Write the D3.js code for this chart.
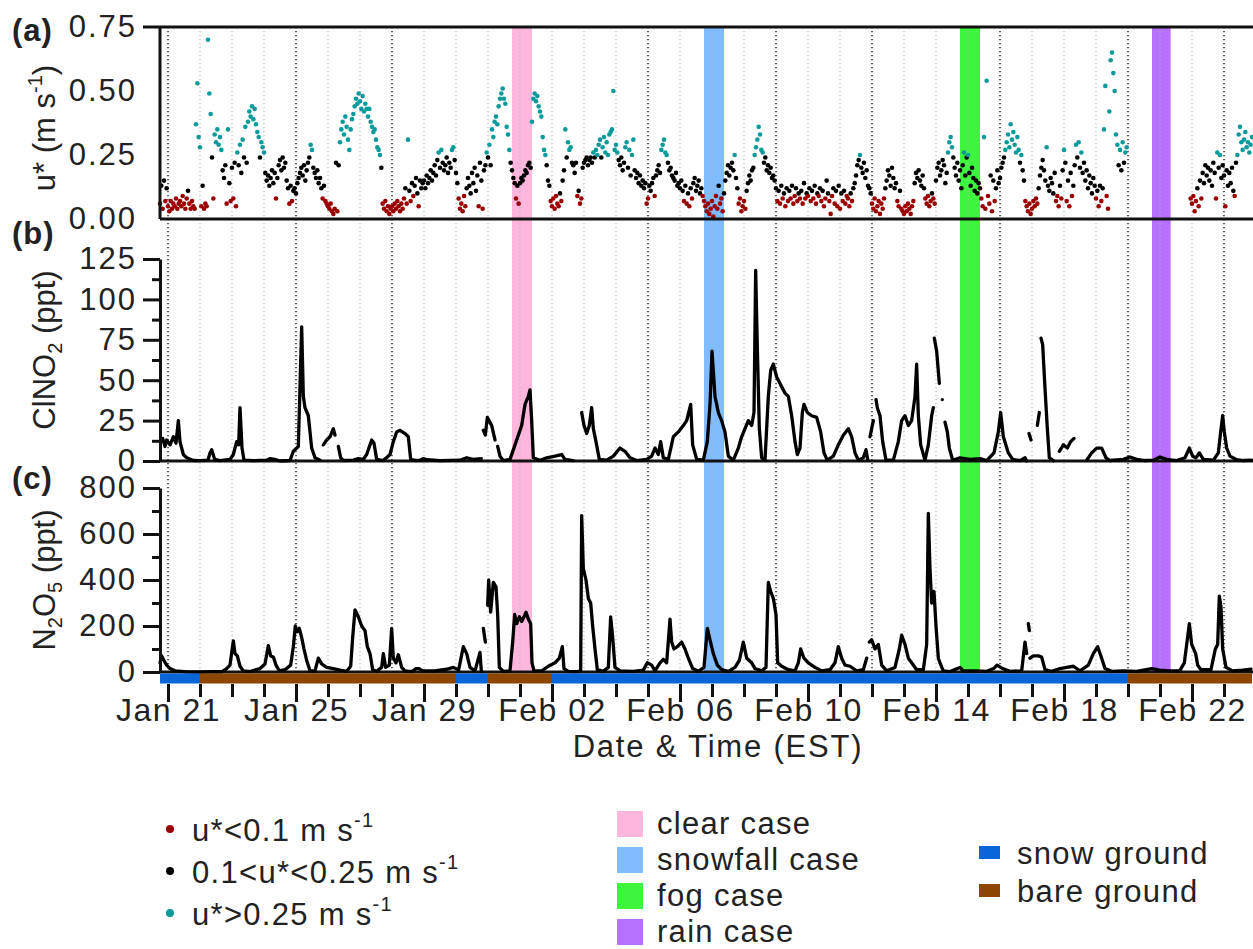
<!DOCTYPE html>
<html>
<head>
<meta charset="utf-8">
<script src="https://cdn.jsdelivr.net/npm/d3@7"></script>
<style>
  body { margin: 0; background: #fff; }
  text { font-family: "Liberation Sans", Arial, sans-serif; fill: #222; }
</style>
</head>
<body>
<div id="chart"></div>
<script>
// ---- data ----

// u* (m s-1), hourly values, each block starts at the given time
let ustarStart = ["2018-01-20 18:00", "2018-01-21 00:00", "2018-01-22 00:00", "2018-01-23 00:00", "2018-01-24 00:00",
    "2018-01-25 00:00", "2018-01-26 00:00", "2018-01-27 00:00", "2018-01-28 00:00", "2018-01-29 00:00",
    "2018-01-30 00:00", "2018-01-31 00:00", "2018-02-01 00:00", "2018-02-02 00:00", "2018-02-03 00:00",
    "2018-02-04 00:00", "2018-02-05 00:00", "2018-02-06 00:00", "2018-02-07 00:00", "2018-02-08 00:00",
    "2018-02-09 00:00", "2018-02-10 00:00", "2018-02-11 00:00", "2018-02-12 00:00", "2018-02-13 00:00",
    "2018-02-14 00:00", "2018-02-15 00:00", "2018-02-16 00:00", "2018-02-17 00:00", "2018-02-18 00:00",
    "2018-02-19 00:00", "2018-02-21 23:00", "2018-02-22 00:00", "2018-02-23 00:00"];
let ustarHourly = [
    [.06, .13, .04, .15, .07, .12],
    [.05, .03, .07, .04, .06, .05, .08, .04, .06, .07, .05, .09, .06, .04, .08, .11, .06, .04, .07, .05, .04, .37, .53, .32],
    [.28, .05, .13, .04, .06, .05, .70, .49, .41, .24, .08, .33, .30, .35, .29, .32, .27, .19, .16, .21, .06, .35, .14, .07],
    [.20, .08, .22, .05, .26, .21, .29, .18, .31, .24, .36, .22, .38, .42, .40, .44, .39, .43, .37, .34, .32, .24, .30, .28],
    [.26, .18, .15, .17, .13, .16, .19, .14, .18, .08, .16, .21, .23, .19, .24, .20, .22, .15, .12, .06, .13, .07, .11, .12],
    [.10, .14, .16, .18, .20, .17, .21, .15, .19, .22, .24, .29, .27, .20, .18, .16, .19, .14, .16, .12, .08, .13, .07, .06],
    [.05, .04, .06, .03, .02, .04, .22, .03, .21, .30, .35, .38, .33, .40, .36, .31, .27, .35, .39, .41, .44, .47, .45, .49],
    [.46, .43, .48, .42, .45, .43, .40, .43, .38, .36, .34, .35, .31, .28, .27, .25, .20, .06, .04, .07, .03, .05, .02, .04],
    [.05, .03, .06, .04, .07, .05, .03, .06, .04, .08, .12, .06, .31, .11, .07, .14, .09, .13, .16, .10, .05, .15, .12, .14],
    [.15, .12, .17, .14, .16, .19, .15, .18, .21, .17, .23, .26, .20, .27, .22, .19, .21, .24, .18, .22, .20, .27, .28, .23],
    [.18, .14, .08, .04, .06, .03, .09, .05, .12, .16, .13, .10, .18, .14, .20, .11, .17, .05, .22, .15, .04, .19, .21, .26],
    [.24, .29, .21, .35, .32, .38, .40, .37, .44, .47, .49, .51, .47, .45, .36, .33, .27, .22, .19, .16, .14, .08, .13, .06],
    [.14, .16, .15, .17, .19, .18, .21, .22, .20, .38, .47, .49, .46, .48, .44, .42, .40, .32, .27, .25, .21, .15, .13, .07],
    [.05, .08, .04, .09, .06, .05, .10, .07, .15, .19, .35, .24, .30, .27, .28, .22, .21, .18, .22, .09, .11, .06, .08, .20],
    [.22, .23, .24, .21, .23, .24, .22, .26, .24, .27, .25, .29, .31, .24, .28, .32, .26, .30, .25, .33, .34, .35, .50, .27],
    [.29, .26, .23, .21, .24, .19, .22, .28, .30, .20, .27, .17, .25, .31, .19, .16, .18, .14, .17, .13, .15, .12, .14, .06],
    [.08, .13, .11, .14, .16, .09, .17, .19, .21, .18, .27, .29, .31, .26, .25, .22, .19, .20, .17, .16, .15, .18, .13, .14],
    [.12, .15, .11, .07, .13, .06, .10, .05, .12, .08, .14, .16, .11, .13, .15, .10, .12, .09, .07, .05, .03, .06, .02, .04],
    [.07, .01, .05, .09, .04, .13, .06, .08, .03, .10, .15, .18, .21, .17, .20, .22, .19, .25, .16, .12, .06, .08, .03, .05],
    [.07, .04, .11, .14, .17, .15, .19, .20, .25, .28, .31, .36, .33, .27, .26, .22, .24, .19, .21, .18, .20, .16, .17, .15],
    [.12, .07, .11, .06, .13, .08, .10, .05, .12, .07, .11, .08, .13, .06, .09, .12, .07, .10, .08, .11, .06, .14, .08, .10],
    [.09, .12, .07, .11, .08, .13, .06, .10, .09, .12, .07, .11, .05, .08, .15, .10, .07, .02, .09, .12, .06, .11, .05, .13],
    [.04, .10, .07, .11, .06, .09, .08, .05, .10, .07, .12, .14, .17, .21, .23, .25, .20, .18, .22, .16, .19, .13, .12, .10],
    [.06, .04, .08, .03, .05, .07, .02, .06, .04, .08, .12, .15, .19, .17, .13, .20, .16, .12, .14, .07, .05, .11, .04, .03],
    [.02, .05, .03, .06, .04, .02, .05, .07, .14, .18, .16, .19, .15, .13, .17, .12, .08, .06, .09, .05, .07, .10, .08, .06],
    [.15, .20, .22, .17, .19, .23, .21, .14, .18, .26, .30, .32, .28, .24, .20, .17, .22, .15, .19, .12, .21, .26, .17, .24],
    [.25, .18, .13, .20, .16, .11, .15, .10, .14, .12, .08, .05, .32, .04, .54, .09, .06, .17, .03, .15, .07, .12, .19, .14],
    [.16, .20, .22, .24, .27, .30, .33, .28, .37, .31, .34, .29, .26, .32, .27, .22, .25, .19, .15, .07, .05, .03, .06, .02],
    [.04, .07, .05, .08, .06, .12, .17, .20, .23, .19, .15, .28, .13, .11, .16, .14, .10, .18, .07, .09, .05, .13, .08, .19],
    [.27, .22, .07, .15, .05, .18, .09, .13, .21, .29, .24, .30, .20, .26, .18, .22, .15, .19, .12, .17, .14, .10, .16, .13],
    [.08, .11, .05, .13, .07, .12, .35, .52, .09, .04, .42, .62, .65, .57, .50, .33, .29, .21, .27, .19, .30, .22, .26, .28],
    [.08],
    [.06, .09, .03, .07, .12, .05, .15, .08, .18, .14, .21, .17, .20, .15, .19, .13, .22, .18, .08, .26, .20, .25, .16, .21],
    [.17, .05, .19, .13, .18, .14, .20, .11, .09, .22, .25, .33, .36, .30, .27, .31, .34, .28, .30, .26, .29, .32]
];

// ClNO2 (ppt): [hours after Jan 21 00:00, value]; null = gap
let clno2 = [[-6, 12], [-4, 14], [-2.25, 9], [-1, 13], [1.5, 10], [4, 15], [6, 11], [7.75, 25], [9, 12], [11.5, 4], [14, 2], [19, .3],
    [24, .2], [30, .5], [31.5, 5], [32.75, 7], [35, 1], [39, .3], [46.5, 1], [49, 4], [51.5, 12], [53, 10], [54, 33], [55.5, 8], [57, .5],
    [64, .2], [74, .5], [76.5, 1.5], [80, 1], [84, 0], [91.5, .3], [94, 6], [97.75, 9], [100.25, 83], [101.5, 40], [102.75, 33], [105.25, 28],
    [107.75, 8], [110.25, 2], [114, .5], [115.5, null], [116.5, 10], [119, 13], [121.5, 15], [124, 20], [125.25, 16], [126, null], [127.75, 9],
    [129.5, 2], [131.5, .3], [139, .5], [142.75, 1.5], [146.5, 1], [149, 4], [151.5, 10], [152.75, 13], [154.5, 11], [156.5, 1], [161.5, .3],
    [166.5, 4], [169, 12], [171.5, 18], [174, 19], [177.75, 17], [180.25, 15], [182, 1], [186.5, .3], [189, .5], [191.5, 1.5], [194, .8],
    [204, .2], [219, .5], [224, 2], [229, 1], [235, 1.5], [236, null], [236.5, 19], [238, 16], [239.5, 27], [242.75, 22], [245.25, 13],
    [246, null], [247.25, 9], [249, 3], [251.5, .3], [256.5, 1], [260.25, 10], [262.75, 16], [265.25, 22], [267.75, 35], [270.25, 40],
    [271.5, 44], [272.75, 25], [274, 2], [279, .5], [284, 2], [290.25, 3], [295.25, 4], [297.75, 1], [304, .3], [309, null], [310.25, 30],
    [312, 22], [314, 17], [316, 22], [317.75, 33], [319, 20], [321, 12], [323.5, 1], [329, .5], [334, 3], [339, 8], [342.75, 6], [346.5, 2],
    [351.5, .3], [359, 1], [362.75, 3], [365.25, 8], [367.75, 4], [369.5, 12], [371.5, 2], [375.25, 1], [379, 15], [382.75, 18], [386.5, 22],
    [389, 25], [392, 35], [393.5, 10], [396.5, 1], [401.5, .5], [404.5, 12], [406.5, 35], [408, 68], [410.25, 40], [412.75, 30], [415.25, 25],
    [417.75, 18], [420.25, 3], [424, .5], [427.75, 8], [430.25, 15], [432.75, 20], [435.25, 25], [437.75, 22], [439.5, 30], [440.75, 118],
    [442, 70], [443.5, 20], [445.25, 2], [447.75, .5], [450.25, 40], [452, 56], [454, 60], [456.5, 52], [459, 48], [462.75, 42], [465.25, 40],
    [467.75, 28], [470.25, 12], [472, 4], [474, 8], [475.75, 30], [477, 35], [479.5, 30], [482.75, 28], [486.5, 27], [489.5, 18], [492, 5],
    [494.5, .5], [499, 3], [502.75, 10], [506.5, 16], [510.25, 20], [512.75, 15], [515.25, 5], [517.75, .5], [521.5, 2], [523.5, 7],
    [524.75, 1], [525.5, null], [526.5, 15], [529, 25], [530, null], [531, 38], [532, 33], [534, 28], [536, 12], [538.5, .5], [544, .5],
    [547.75, 12], [550.25, 25], [552.75, 28], [555.25, 22], [557.75, 25], [560.25, 40], [561.5, 60], [562.75, 28], [564.5, 10], [567.75, .5],
    [570.25, 10], [572.75, 28], [574, 33], [574.4, null], [574.75, 76], [576.5, 68], [578.5, 48], [579.5, null], [580.75, 38], [581.5, null],
    [582.75, 24], [584.5, 18], [586, 8], [588.5, .5], [594, 2], [601.5, 1], [609, 1.5], [614, .2], [619.5, 5], [622.75, 18], [624.5, 30],
    [626.5, 15], [630.25, 5], [633.5, 1], [639, .2], [642.75, 2], [644, 0], [645, null], [645.75, 17], [647.25, 13], [648, null], [652, 22],
    [653.5, 30], [654, null], [654.75, 76], [656, 72], [657.75, 45], [659.5, 20], [661, 2], [664, .2], [666, null], [668.5, 6], [671.5, 10],
    [674.5, 8], [677, 12], [679.5, 14], [681, null], [689, .5], [692.75, 5], [696.5, 8], [700.25, 8], [703.5, 2], [706.5, .3], [716.5, 1],
    [721.5, 2.5], [726.5, 1], [732.75, .3], [739, .5], [744, 2.5], [749, 1], [756.5, .3], [762.75, 2], [766, 8], [768.5, 3], [771, 2],
    [773.5, 5], [776.5, 1], [784, .5], [787.75, 5], [789.5, 18], [791, 28], [792.25, 18], [794, 8], [796.5, 3], [801.5, .8], [806.5, .3],
    [812.75, .5]];

// N2O5 (ppt): [hours after Jan 21 00:00, value]; null = gap
let n2o5 = [[-6, 40], [-4.75, 70], [-3, 50], [-1, 30], [1.5, 15], [5.25, 5], [10.25, 3], [14, .5], [24, 0], [34, 2], [40.25, 1], [44, 15],
    [46.5, 30], [49, 135], [50.25, 80], [52, 70], [54, 25], [56.5, 5], [61.5, 2], [69, 15], [72.75, 35], [75.25, 115], [77, 70], [79, 65],
    [81, 30], [83.5, 5], [87.75, 10], [92, 30], [94, 110], [95.5, 200], [97, 175], [98.5, 190], [100.25, 150], [102, 100], [104, 50],
    [106.5, 5], [110.25, 5], [112.75, 60], [115.25, 35], [119, 20], [124, 15], [129, 8], [134, 3], [137, 25], [138.5, 150], [140.25, 270],
    [142.75, 240], [145.25, 200], [147.75, 180], [149.5, 110], [151.5, 80], [153.5, 10], [156.5, 3], [160.25, 20], [161.5, 80], [163.25, 20],
    [166, 30], [167.75, 190], [169, 60], [171, 40], [172.75, 75], [175.25, 20], [177.75, 5], [182.75, 2], [186, 15], [188, 15], [191, 5],
    [200, 5], [209, 12], [214, 20], [218, 10], [221.5, 110], [224, 80], [226.5, 20], [230.25, 5], [234, 85], [235, 3], [235.8, null],
    [236.5, 190], [238, 130], [239, null], [239.75, 290], [240.5, 400], [242, 260], [244, 390], [246, 370], [247.25, 250], [248.5, 20],
    [251.5, 3], [256.5, 5], [258.5, 130], [260, 250], [261.5, 210], [263.5, 240], [265.25, 220], [267, 240], [268.5, 260], [270.25, 230],
    [272, 210], [273, 40], [274.5, 5], [280.25, 5], [285.25, 25], [290.25, 40], [293.5, 60], [295.75, 110], [297, 15], [300.25, 3],
    [306.5, 2], [309.5, 5], [310.25, 680], [311.5, 450], [313.5, 400], [315.25, 320], [317, 300], [318.5, 200], [320.25, 100], [322, 10],
    [326.5, 3], [330.25, 20], [332, 240], [333.5, 150], [335.25, 20], [339, 5], [349, 3], [356.5, 8], [359.5, 40], [362.75, 30], [365.25, 5],
    [369, 40], [371.5, 55], [374, 40], [376.5, 230], [377.75, 130], [379.5, 100], [382, 110], [385.25, 130], [387.75, 100], [390.25, 60],
    [393.5, 15], [397.75, 3], [402, 20], [404.5, 190], [406.5, 140], [409, 80], [412, 30], [415.25, 10], [420.25, 3], [425.25, 20],
    [428.5, 50], [431.5, 130], [434, 60], [437.75, 40], [440.25, 15], [445.25, 5], [448.5, 20], [450.25, 390], [452, 350], [454, 320],
    [456, 250], [457.25, 40], [460.25, 25], [465.25, 10], [470.25, 5], [472.75, 40], [474.5, 100], [477, 60], [480.25, 40], [485.25, 20],
    [490.25, 5], [496.5, 10], [500.25, 40], [502.75, 110], [505.25, 60], [507.75, 30], [511.5, 25], [516.5, 5], [521.5, 10], [524, 60],
    [525, null], [526, 130], [527.75, 140], [530.25, 100], [532.75, 120], [535.25, 30], [539, 5], [545.25, 20], [548.5, 100], [550.25, 160],
    [552.75, 120], [555.25, 60], [557.75, 40], [561.5, 10], [566.5, 10], [569, 120], [570.25, 690], [571.5, 450], [572.75, 300], [574.5, 350],
    [576, 200], [577.75, 60], [579, 40], [581.5, 5], [586.5, 2], [594, 20], [596.5, 5], [606.5, 5], [614, 3], [619.25, 15], [621.75, 30],
    [626, 15], [631.5, 3], [640.25, 5], [642.75, 130], [644, 80], [644.6, null], [645.25, 210], [646, 180], [646.3, null], [646.5, 60],
    [649, 70], [652.75, 70], [655.25, 65], [657.75, 10], [662.75, 3], [669, 15], [674, 20], [679, 25], [684, 5], [690.25, 30], [694, 80],
    [697.25, 110], [700.25, 60], [702.75, 15], [707.75, 3], [716.5, 5], [726.5, 3], [737.75, 15], [744, 8], [751.5, 5], [758.75, 5],
    [762.25, 40], [766, 210], [767.75, 120], [770.75, 80], [772.25, 30], [774.75, 10], [782.25, 10], [785.5, 100], [787.25, 120],
    [788.5, 330], [789.75, 280], [791, 100], [793.5, 20], [798.5, 5], [806, 8], [812.25, 12]];

// shaded case periods
let caseNames = ["clear case", "snowfall case", "fog case", "rain case"];
let caseStart = ["2018-01-31 18:00", "2018-02-06 18:00", "2018-02-14 18:00", "2018-02-20 18:00"];
let caseEnd = ["2018-02-01 09:00", "2018-02-07 09:00", "2018-02-15 09:00", "2018-02-21 08:00"];
let caseColors = ["#ffb6dc", "#80bcff", "#3cf53c", "#b870ff"];

// ground state bar
let groundNames = ["snow ground", "bare ground"];
let groundColors = ["#0a66d8", "#8c4600"];
let groundStart = ["2018-01-20 18:00", "2018-01-22 00:00", "2018-01-30 00:00", "2018-01-31 00:00", "2018-02-02 00:00", "2018-02-20 00:00"];
let groundState = ["snow ground", "bare ground", "snow ground", "bare ground", "snow ground", "bare ground"];

// u* classes
let ustarBreaks = [0.1, 0.25];
let ustarClassColors = ["#9a0000", "#000000", "#0b9a9a"];

// axis ticks
let majorTickLabels = ["2018-01-21", "2018-01-25", "2018-01-29", "2018-02-02", "2018-02-06", "2018-02-10", "2018-02-14", "2018-02-18", "2018-02-22"];
let darkGridDays = ["2018-01-21", "2018-01-25", "2018-01-28", "2018-02-05", "2018-02-09", "2018-02-12", "2018-02-16", "2018-02-20", "2018-02-23"];
let ustarTicks = [0, 0.25, 0.5, 0.75];
let clno2Ticks = [0, 25, 50, 75, 100, 125];
let clno2Minor = [12.5, 37.5, 62.5, 87.5, 112.5];
let n2o5Ticks = [0, 200, 400, 600, 800];
let n2o5Minor = [100, 300, 500, 700];

// ---- layout ----
let svgWidth = 1253;
let svgHeight = 949;
let left = 160, right = 1252;
let aTop = 27, aBottom = 219;
let bTop = 259, bBottom = 461;
let cTop = 488, cBottom = 672;

let parseT = d3.timeParse("%Y-%m-%d %H:%M");
let parseD = d3.timeParse("%Y-%m-%d");
let t0 = parseD("2018-01-21");
let atHour = h => new Date(t0.getTime() + h * 3600e3);

let svg = d3.select("#chart").append("svg")
    .attr("width", svgWidth)
    .attr("height", svgHeight);

let xScale = d3.scaleTime()
    .domain([parseT("2018-01-20 18:00"), parseT("2018-02-23 21:00")])
    .range([left, right]);
let yA = d3.scaleLinear().domain([0, 0.75]).range([aBottom, aTop]);
let yB = d3.scaleLinear().domain([0, 125]).range([bBottom, bTop]);
let yC = d3.scaleLinear().domain([0, 800]).range([cBottom, cTop]);
let ustarColor = d3.scaleThreshold().domain(ustarBreaks).range(ustarClassColors);

// case bands
svg.append("g").selectAll("rect")
    .data(caseNames)
    .enter().append("rect")
    .attr("x", (d, i) => xScale(parseT(caseStart[i])))
    .attr("width", (d, i) => xScale(parseT(caseEnd[i])) - xScale(parseT(caseStart[i])))
    .attr("y", aTop)
    .attr("height", cBottom - aTop)
    .attr("fill", (d, i) => caseColors[i]);

// daily dotted grid
let darkSet = new Set(darkGridDays);
let dayKey = d3.timeFormat("%Y-%m-%d");
let days = d3.timeDay.range(parseD("2018-01-21"), parseD("2018-02-24"));
svg.append("g").selectAll("line")
    .data(days)
    .enter().append("line")
    .attr("x1", d => xScale(d)).attr("x2", d => xScale(d))
    .attr("y1", aTop).attr("y2", cBottom)
    .attr("stroke", d => darkSet.has(dayKey(d)) ? "#222" : "#b4b4b4")
    .attr("stroke-width", d => darkSet.has(dayKey(d)) ? 1.4 : 1.1)
    .attr("stroke-dasharray", "1.3,2.7");

// ---- panel (a) u* scatter ----
let ustarPoints = [];
ustarHourly.forEach(function (vals, i) {
    let start = parseT(ustarStart[i]);
    vals.forEach(function (v, j) {
        ustarPoints.push({ time: d3.timeHour.offset(start, j), value: v });
    });
});

svg.append("g").selectAll("circle")
    .data(ustarPoints)
    .enter().append("circle")
    .attr("cx", d => xScale(d.time))
    .attr("cy", d => yA(d.value))
    .attr("r", 2.3)
    .attr("fill", d => ustarColor(d.value));

// frame of (a)
let frame = svg.append("g").attr("stroke", "#111").attr("stroke-width", 3).attr("fill", "none");
frame.append("line").attr("x1", 143).attr("x2", svgWidth).attr("y1", aTop).attr("y2", aTop);
frame.append("line").attr("x1", left).attr("x2", svgWidth).attr("y1", aBottom).attr("y2", aBottom);
frame.append("line").attr("x1", left).attr("x2", left).attr("y1", aTop).attr("y2", aBottom);

let axA = svg.append("g")
    .attr("transform", `translate(${left},0)`)
    .call(d3.axisLeft(yA).tickValues(ustarTicks).tickFormat(d3.format(".2f")).tickSize(0).tickPadding(23));
axA.select(".domain").remove();

// ---- panels (b) and (c) lines ----
let lineB = d3.line()
    .defined(d => d[1] !== null)
    .x(d => xScale(atHour(d[0])))
    .y(d => yB(d[1]));
let lineC = d3.line()
    .defined(d => d[1] !== null)
    .x(d => xScale(atHour(d[0])))
    .y(d => yC(d[1]));

svg.append("path").datum(clno2)
    .attr("d", lineB)
    .attr("fill", "none").attr("stroke", "#000").attr("stroke-width", 3.3)
    .attr("stroke-linejoin", "round").attr("stroke-linecap", "round");
svg.append("path").datum(n2o5)
    .attr("d", lineC)
    .attr("fill", "none").attr("stroke", "#000").attr("stroke-width", 3.3)
    .attr("stroke-linejoin", "round").attr("stroke-linecap", "round");

// baselines
frame.append("line").attr("x1", left).attr("x2", svgWidth).attr("y1", bBottom).attr("y2", bBottom);
frame.append("line").attr("x1", left).attr("x2", svgWidth).attr("y1", cBottom).attr("y2", cBottom);

function yAxis(scale, major, minor) {
    let g = svg.append("g").attr("transform", `translate(${left},0)`);
    g.call(d3.axisLeft(scale).tickValues(major).tickSize(17).tickSizeOuter(0).tickPadding(6));
    g.append("g").call(d3.axisLeft(scale).tickValues(minor).tickSize(8).tickSizeOuter(0).tickFormat(""))
        .select(".domain").remove();
    g.selectAll("line, path").attr("stroke", "#111").attr("stroke-width", 3);
    return g;
}
yAxis(yB, clno2Ticks, clno2Minor);
yAxis(yC, n2o5Ticks, n2o5Minor);

svg.selectAll(".tick text")
    .attr("font-size", 31)
    .attr("letter-spacing", 2)
    .attr("font-family", "Liberation Sans, Arial, sans-serif")
    .attr("fill", "#222");

// ground bar
let groundColor = d3.scaleOrdinal().domain(groundNames).range(groundColors);
let groundEnds = groundStart.slice(1).concat(["2018-02-23 21:00"]);
svg.append("g").selectAll("rect")
    .data(groundState)
    .enter().append("rect")
    .attr("x", (d, i) => xScale(parseT(groundStart[i])))
    .attr("width", (d, i) => xScale(parseT(groundEnds[i])) - xScale(parseT(groundStart[i])))
    .attr("y", cBottom + 1.5)
    .attr("height", 10)
    .attr("fill", d => groundColor(d));

// x axis
let axisY = 684;
let minorX = svg.append("g").attr("transform", `translate(0,${axisY})`)
    .call(d3.axisBottom(xScale).tickValues(days).tickSize(13).tickFormat(""));
minorX.select(".domain").remove();
let majorX = svg.append("g").attr("transform", `translate(0,${axisY})`)
    .call(d3.axisBottom(xScale).tickValues(majorTickLabels.map(parseD)).tickSize(18).tickPadding(-4)
        .tickFormat(d3.timeFormat("%b %d")));
majorX.select(".domain").remove();
svg.selectAll("g line").filter(function () { return this.parentNode.classList.contains("tick"); })
    .attr("stroke", "#111").attr("stroke-width", 3);
majorX.selectAll("text")
    .attr("font-size", 32)
    .attr("letter-spacing", 1.5)
    .attr("fill", "#222");

// axis titles
svg.append("text")
    .attr("x", 718).attr("y", 757)
    .attr("text-anchor", "middle")
    .attr("font-size", 31)
    .attr("letter-spacing", 1.8)
    .text("Date & Time (EST)");

function yTitle(cy, parts) {
    let txt = svg.append("text")
        .attr("transform", `translate(55,${cy}) rotate(-90)`)
        .attr("text-anchor", "middle")
        .attr("font-size", 31);
    parts.forEach(function (p) {
        let s = txt.append("tspan").text(p[0]);
        if (p[1] === "sup") s.attr("font-size", 20).attr("dy", -13);
        if (p[1] === "sub") s.attr("font-size", 20).attr("dy", 7);
        if (p[1] === "back-up") s.attr("dy", 13);
        if (p[1] === "back-down") s.attr("dy", -7);
    });
}
yTitle(128, [["u* (m s"], ["-1", "sup"], [")", "back-up"]]);
yTitle(350, [["ClNO"], ["2", "sub"], [" (ppt)", "back-down"]]);
yTitle(580, [["N"], ["2", "sub"], ["O", "back-down"], ["5", "sub"], [" (ppt)", "back-down"]]);

// panel letters
[["(a)", 41], ["(b)", 244], ["(c)", 489]].forEach(function (p) {
    svg.append("text")
        .attr("x", 12).attr("y", p[1])
        .attr("font-size", 31)
        .attr("font-weight", "bold")
        .attr("letter-spacing", 1)
        .text(p[0]);
});

// ---- legends ----
let ustarLegend = [["u*<0.1 m s", 0.05], ["0.1<u*<0.25 m s", 0.15], ["u*>0.25 m s", 0.4]];
let lg1 = svg.append("g").selectAll("g")
    .data(ustarLegend)
    .enter().append("g")
    .attr("transform", (d, i) => `translate(170,${829 + i * 42})`);
lg1.append("circle").attr("r", 4).attr("fill", d => ustarColor(d[1]));
let lt1 = lg1.append("text").attr("x", 22).attr("y", 12).attr("font-size", 31).attr("letter-spacing", 1.3);
lt1.append("tspan").text(d => d[0]);
lt1.append("tspan").attr("font-size", 20).attr("dy", -14).text("-1");

let lg2 = svg.append("g").selectAll("g")
    .data(caseNames)
    .enter().append("g")
    .attr("transform", (d, i) => `translate(617,${811 + i * 36})`);
lg2.append("rect").attr("width", 26).attr("height", 26).attr("fill", (d, i) => caseColors[i]);
lg2.append("text").attr("x", 40).attr("y", 23).attr("font-size", 31).attr("letter-spacing", 1.3).text(d => d);

let lg3 = svg.append("g").selectAll("g")
    .data(groundNames)
    .enter().append("g")
    .attr("transform", (d, i) => `translate(979,${846 + i * 38})`);
lg3.append("rect").attr("width", 21).attr("height", 13).attr("fill", d => groundColor(d));
lg3.append("text").attr("x", 38).attr("y", 18).attr("font-size", 31).attr("letter-spacing", 1.3).text(d => d);
</script>
</body>
</html>
